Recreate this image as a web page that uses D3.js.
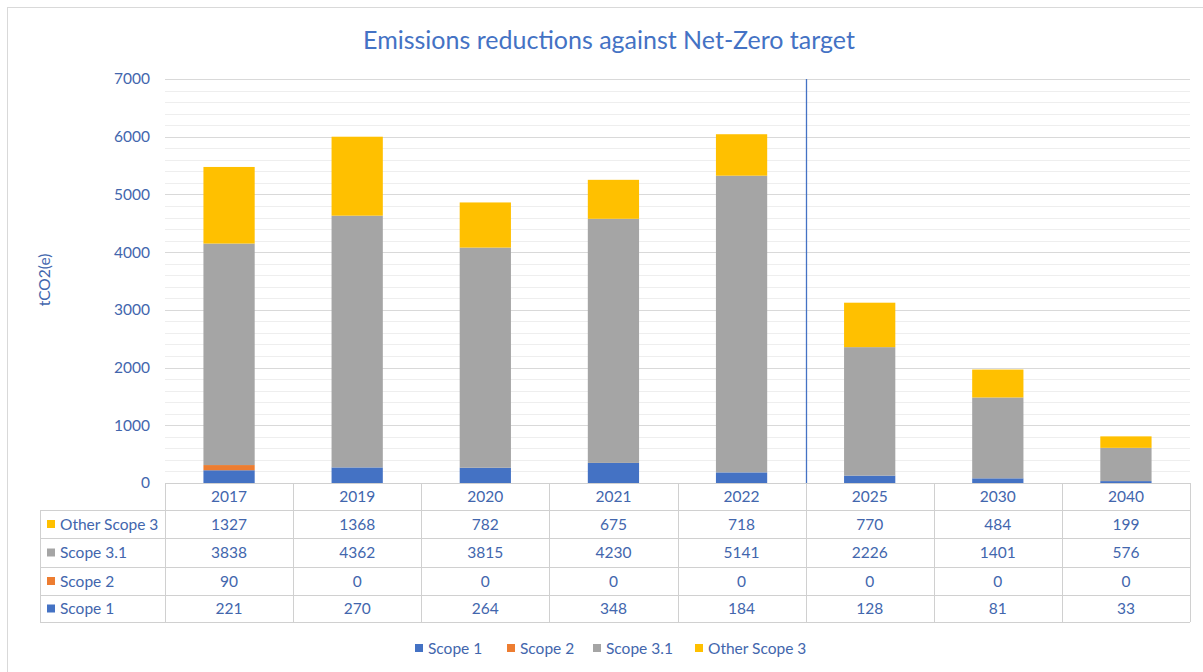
<!DOCTYPE html>
<html>
<head>
<meta charset="utf-8">
<script src="https://cdn.jsdelivr.net/npm/d3@7"></script>
<style>
  body { margin: 0; background: #fff; }
  text { font-family: Lato, "Open Sans", sans-serif; }
</style>
</head>
<body>
<div id="chart"></div>
<script>
// data
var years = ["2017", "2019", "2020", "2021", "2022", "2025", "2030", "2040"];
var scope1 = [221, 270, 264, 348, 184, 128, 81, 33];
var scope2 = [90, 0, 0, 0, 0, 0, 0, 0];
var scope31 = [3838, 4362, 3815, 4230, 5141, 2226, 1401, 576];
var otherScope3 = [1327, 1368, 782, 675, 718, 770, 484, 199];
var yTicks = [0, 1000, 2000, 3000, 4000, 5000, 6000, 7000];

var seriesNames = ["Scope 1", "Scope 2", "Scope 3.1", "Other Scope 3"];
var seriesColors = ["#4472C4", "#ED7D31", "#A5A5A5", "#FFC000"];
var seriesValues = [scope1, scope2, scope31, otherScope3];

var textBlue = "#4266ad";
var W = 1203, H = 672;
var plotLeft = 165, plotRight = 1190, plotTop = 79, plotBottom = 483;
var tableLeft = 40;
var rowH = [27, 28, 29, 28, 27];
var fs = 15.5;

var svg = d3.select("#chart").append("svg")
  .attr("width", W).attr("height", H);

// outer frame
svg.append("rect")
  .attr("x", 7.5).attr("y", 7.5)
  .attr("width", W).attr("height", H)
  .attr("fill", "none").attr("stroke", "#d9d9d9");

// title
svg.append("text")
  .attr("x", 609).attr("y", 49)
  .attr("text-anchor", "middle")
  .attr("font-size", 25)
  .attr("fill", "#4472C4")
  .text("Emissions reductions against Net-Zero target");

var x = d3.scaleBand().domain(years).range([plotLeft, plotRight]).paddingInner(0.6).paddingOuter(0.3);
var xCol = d3.scaleBand().domain(years).range([plotLeft, plotRight]);
var y = d3.scaleLinear().domain([0, 7000]).range([plotBottom, plotTop]);

// minor gridlines
svg.append("g").selectAll("line")
  .data(d3.range(0, 7001, 200).filter(function(v) { return v % 1000 !== 0; }))
  .enter().append("line")
  .attr("x1", plotLeft).attr("x2", plotRight)
  .attr("y1", function(d) { return Math.round(y(d)) + 0.5; })
  .attr("y2", function(d) { return Math.round(y(d)) + 0.5; })
  .attr("stroke", "#eeeeee");

// major gridlines
svg.append("g").selectAll("line")
  .data(yTicks.slice(1))
  .enter().append("line")
  .attr("x1", plotLeft).attr("x2", plotRight)
  .attr("y1", function(d) { return Math.round(y(d)) + 0.5; })
  .attr("y2", function(d) { return Math.round(y(d)) + 0.5; })
  .attr("stroke", "#d9d9d9");

// y axis labels
var yAxis = svg.append("g")
  .attr("transform", "translate(" + (plotLeft - 13) + ",0)")
  .call(d3.axisLeft(y).tickValues(yTicks).tickSize(0).tickPadding(2).tickFormat(d3.format("d")));
yAxis.select(".domain").remove();
yAxis.selectAll("text")
  .attr("font-size", fs)
  .attr("font-family", "Lato, sans-serif")
  .attr("fill", textBlue);

svg.append("text")
  .attr("transform", "translate(50,280) rotate(-90)")
  .attr("text-anchor", "middle")
  .attr("font-size", fs)
  .attr("fill", textBlue)
  .text("tCO2(e)");

// stacked bars
var rows = years.map(function(yr, i) {
  var r = { year: yr };
  seriesNames.forEach(function(s, k) { r[s] = seriesValues[k][i]; });
  return r;
});
var stack = d3.stack().keys(seriesNames)(rows);

svg.append("g").selectAll("g")
  .data(stack)
  .enter().append("g")
  .attr("fill", function(d, k) { return seriesColors[k]; })
  .selectAll("rect")
  .data(function(d) { return d; })
  .enter().append("rect")
  .attr("x", function(d) { return x(d.data.year); })
  .attr("width", x.bandwidth())
  .attr("y", function(d) { return y(d[1]); })
  .attr("height", function(d) { return y(d[0]) - y(d[1]); });

// divider between actual and target years
var divX = Math.round(xCol("2025")) + 0.5;
svg.append("line")
  .attr("x1", divX).attr("x2", divX)
  .attr("y1", plotTop).attr("y2", plotBottom)
  .attr("stroke", "#4472C4").attr("stroke-width", 1.3);

// data table
var rowY = [plotBottom];
rowH.forEach(function(h) { rowY.push(rowY[rowY.length - 1] + h); });
var table = svg.append("g");
var gridColor = "#d0d0d0";

// horizontal lines
rowY.forEach(function(yy, i) {
  table.append("line")
    .attr("x1", i === 0 ? plotLeft : tableLeft).attr("x2", plotRight)
    .attr("y1", yy + 0.5).attr("y2", yy + 0.5)
    .attr("stroke", gridColor);
});
// vertical lines
years.forEach(function(yr) {
  var xx = Math.round(xCol(yr)) + 0.5;
  table.append("line")
    .attr("x1", xx).attr("x2", xx)
    .attr("y1", rowY[0]).attr("y2", rowY[5])
    .attr("stroke", gridColor);
});
table.append("line")
  .attr("x1", plotRight + 0.5).attr("x2", plotRight + 0.5)
  .attr("y1", rowY[0]).attr("y2", rowY[5]).attr("stroke", gridColor);
table.append("line")
  .attr("x1", tableLeft + 0.5).attr("x2", tableLeft + 0.5)
  .attr("y1", rowY[1]).attr("y2", rowY[5]).attr("stroke", gridColor);

// header (years)
table.selectAll(".yr")
  .data(years)
  .enter().append("text")
  .attr("x", function(d) { return xCol(d) + xCol.bandwidth() / 2; })
  .attr("y", rowY[0] + rowH[0] / 2 + 5.5)
  .attr("text-anchor", "middle")
  .attr("font-size", fs)
  .attr("fill", textBlue)
  .text(function(d) { return d; });

// table rows, top to bottom: Other Scope 3, Scope 3.1, Scope 2, Scope 1
var tableOrder = [3, 2, 1, 0];
tableOrder.forEach(function(k, r) {
  var cy = rowY[r + 1] + rowH[r + 1] / 2;
  table.append("rect")
    .attr("x", 47).attr("y", cy - 4)
    .attr("width", 8).attr("height", 8)
    .attr("fill", seriesColors[k]);
  table.append("text")
    .attr("x", 60).attr("y", cy + 5.5)
    .attr("font-size", fs)
    .attr("fill", textBlue)
    .text(seriesNames[k]);
  table.selectAll(".v" + k)
    .data(seriesValues[k])
    .enter().append("text")
    .attr("x", function(d, i) { return xCol(years[i]) + xCol.bandwidth() / 2; })
    .attr("y", cy + 5.5)
    .attr("text-anchor", "middle")
    .attr("font-size", fs)
    .attr("fill", textBlue)
    .text(function(d) { return d; });
});

// legend
var legendX = [415, 507, 593, 695];
var legend = svg.append("g");
seriesNames.forEach(function(s, k) {
  legend.append("rect")
    .attr("x", legendX[k]).attr("y", 644)
    .attr("width", 8).attr("height", 8)
    .attr("fill", seriesColors[k]);
  legend.append("text")
    .attr("x", legendX[k] + 13).attr("y", 653.5)
    .attr("font-size", fs)
    .attr("fill", textBlue)
    .text(s);
});
</script>
</body>
</html>
